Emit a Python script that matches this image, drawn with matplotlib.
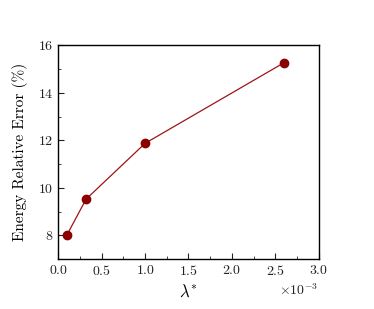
import numpy as np
import matplotlib
matplotlib.use('Agg')
import matplotlib.pyplot as plt
from matplotlib.ticker import AutoMinorLocator

# data
lam = [0.1e-3, 0.32e-3, 1.0e-3, 2.6e-3]
err = [8.03, 9.53, 11.88, 15.27]

plt.rcParams['font.family'] = 'serif'
plt.rcParams['font.serif'] = ['cmr10']
plt.rcParams['mathtext.fontset'] = 'cm'
plt.rcParams['axes.formatter.use_mathtext'] = True
plt.rcParams['axes.unicode_minus'] = True

fig = plt.figure(figsize=(3.74, 3.09), dpi=100)
ax = fig.add_axes([0.156, 0.161, 0.696, 0.692])

ax.plot(lam, err, color='#9b1515', lw=0.9, marker='o', ms=6,
        mfc='#8b0000', mec='#8b0000')

ax.set_xlim(0, 3.0e-3)
ax.set_ylim(7, 16)
ax.set_xticks(np.arange(0, 3.01e-3, 0.5e-3))
ax.set_yticks([8, 10, 12, 14, 16])
ax.xaxis.set_minor_locator(AutoMinorLocator(2))
ax.yaxis.set_minor_locator(AutoMinorLocator(2))
ax.ticklabel_format(axis='x', style='sci', scilimits=(0, 0))
ax.tick_params(which='both', direction='in', labelsize=10, colors='#222222')
ax.tick_params(which='major', length=4)
ax.tick_params(which='minor', length=2)
ax.xaxis.get_offset_text().set_fontsize(10)

ax.set_xlabel(r'$\lambda^{*}$', fontsize=12)
ax.set_ylabel('Energy Relative Error (%)', fontsize=11, labelpad=7)

for s in ax.spines.values():
    s.set_linewidth(1.0)

fig.savefig('out.png', dpi=100)
